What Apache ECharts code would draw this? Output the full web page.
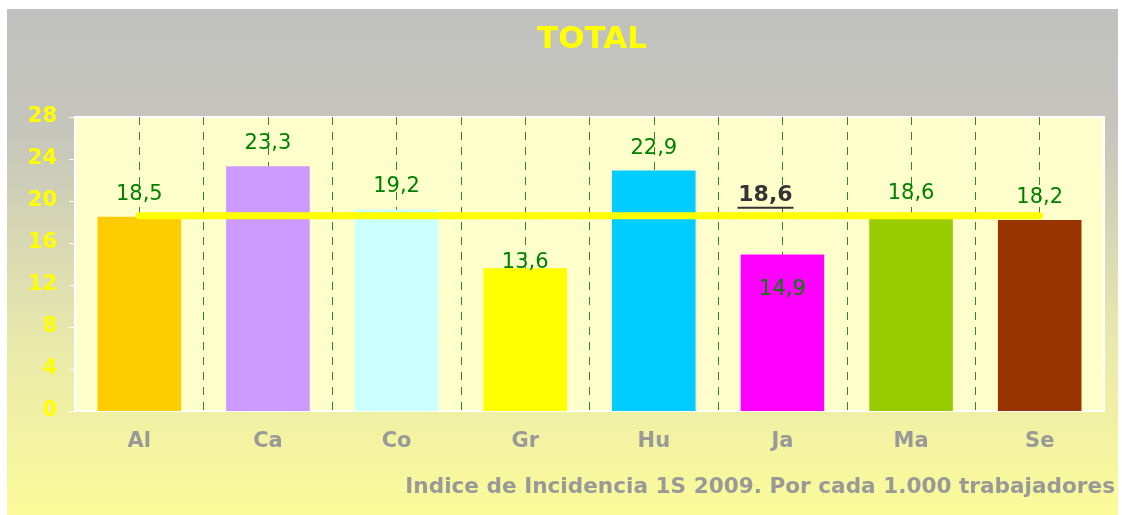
<!DOCTYPE html>
<html lang="es">
<head>
  <meta charset="UTF-8">
  <title>TOTAL</title>
  <script src="https://cdn.jsdelivr.net/npm/echarts@6/dist/echarts.min.js"></script>
  <style>
    html, body { margin: 0; padding: 0; background: #fff; }
    #chart {
      position: absolute; left: 7px; top: 9px; width: 1111px; height: 506px;
      background: linear-gradient(to bottom, #c0c0c0 0%, #c6c6bc 25%, #e8e8ac 65%, #fbfb9a 100%);
    }
  </style>
</head>
<body>
<div id="chart"></div>
<script>
  // datos
  var categories = ['Al', 'Ca', 'Co', 'Gr', 'Hu', 'Ja', 'Ma', 'Se'];
  var values = [18.5, 23.3, 19.2, 13.6, 22.9, 14.9, 18.6, 18.2];
  var barColors = ['#ffcc00', '#cc99ff', '#ccffff', '#ffff00', '#00ccff', '#ff00ff', '#99cc00', '#993300'];
  var average = 18.6;
  var yTicks = [0, 4, 8, 12, 16, 20, 24, 28];
  var subtitle = 'Indice de Incidencia 1S 2009. Por cada 1.000 trabajadores';

  var font = '"DejaVu Sans", Verdana, sans-serif';
  var fmt = function (v) { return String(v).replace('.', ','); };

  // algunas etiquetas estaban movidas a mano en el original
  var labelTweaks = {
    'Gr': { position: 'top', distance: -5 },
    'Ja': { position: 'insideTop', distance: 24 }
  };

  var barData = values.map(function (v, i) {
    var item = { value: v, itemStyle: { color: barColors[i] } };
    if (labelTweaks[categories[i]]) item.label = labelTweaks[categories[i]];
    return item;
  });

  var avgData = categories.map(function (c) {
    var item = { value: average };
    if (c === 'Ja') {
      item.label = {
        show: true,
        position: 'top',
        distance: 6,
        offset: [-17, 0],
        formatter: '{v|' + fmt(average) + '}\n{u|}',
        rich: {
          v: { fontFamily: font, fontWeight: 'bold', fontSize: 22, color: '#333333', lineHeight: 22 },
          u: { width: 56, height: 2, backgroundColor: '#333333' }
        }
      };
    }
    return item;
  });

  var chart = echarts.init(document.getElementById('chart'));
  chart.setOption({
    animation: false,
    title: {
      text: 'TOTAL',
      left: 525,
      top: 10,
      textStyle: { color: '#ffff00', fontFamily: font, fontWeight: 'bold', fontSize: 31 }
    },
    graphic: [{
      type: 'text',
      right: 3,
      top: 467,
      style: { text: subtitle, fill: '#999999', font: 'bold 21.6px ' + font }
    }],
    grid: {
      left: 68, right: 14, top: 108, bottom: 104,
      show: true, backgroundColor: '#ffffcc', borderColor: '#ffffff', borderWidth: 2
    },
    xAxis: [{
      type: 'category',
      data: categories,
      axisLine: { lineStyle: { color: '#ffffff', width: 2 } },
      axisTick: { lineStyle: { color: '#ffffff' }, length: 8 },
      axisLabel: { color: '#999999', fontFamily: font, fontWeight: 'bold', fontSize: 21, margin: 20 },
      splitLine: { show: false }
    }, {
      // solo para las líneas verticales discontinuas
      type: 'value',
      position: 'top',
      min: 0, max: 16, interval: 1,
      axisLine: { show: false }, axisTick: { show: false }, axisLabel: { show: false },
      splitLine: {
        show: true, showMinLine: false, showMaxLine: false,
        lineStyle: { color: '#2a8a2a', width: 1, type: [8, 7] }
      }
    }],
    yAxis: {
      type: 'value',
      min: yTicks[0], max: yTicks[yTicks.length - 1], interval: 4,
      axisLine: { show: true, lineStyle: { color: '#ffffff', width: 2 } },
      axisTick: { show: true, length: 6, lineStyle: { color: '#ffffff' } },
      axisLabel: { color: '#ffff00', fontFamily: font, fontWeight: 'bold', fontSize: 21, margin: 18 },
      splitLine: { show: false }
    },
    series: [{
      type: 'bar',
      data: barData,
      barCategoryGap: '35%',
      label: {
        show: true, position: 'top', distance: 12,
        color: '#008000', fontFamily: font, fontSize: 21,
        formatter: function (p) { return fmt(p.value); }
      },
      z: 2
    }, {
      type: 'line',
      data: avgData,
      symbol: 'circle',
      symbolSize: 2,
      itemStyle: { color: '#ffff00' },
      lineStyle: { color: '#ffff00', width: 7, cap: 'round' },
      z: 3
    }]
  });
</script>
</body>
</html>
